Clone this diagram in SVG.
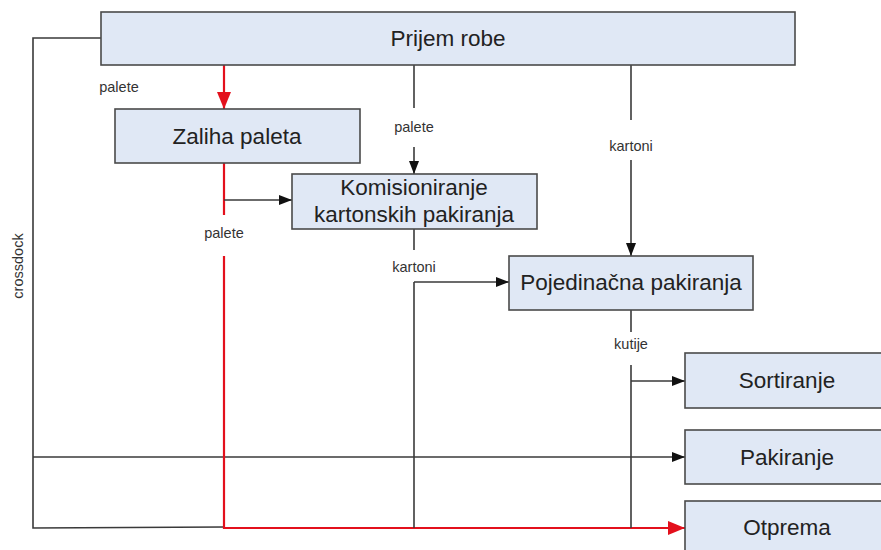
<svg xmlns="http://www.w3.org/2000/svg" width="881" height="550" viewBox="0 0 881 550">
<defs>
<style>
.box{fill:#e0e8f5;stroke:#4a4a4a;stroke-width:1.6}
.t{font-family:"Liberation Sans",Arial,sans-serif;font-size:22.5px;fill:#222;text-anchor:middle}
.l{font-family:"Liberation Sans",Arial,sans-serif;font-size:14.5px;fill:#333;text-anchor:middle}
.k{fill:none;stroke:#3a3a3a;stroke-width:1.6}
.r{fill:none;stroke:#e3101c;stroke-width:2.2}
</style>
<marker id="ab" markerUnits="userSpaceOnUse" markerWidth="14" markerHeight="10" refX="13" refY="5" orient="auto"><path d="M0,0 L13,5 L0,10 Z" fill="#111"/></marker>
<marker id="ar" markerUnits="userSpaceOnUse" markerWidth="18" markerHeight="14" refX="17" refY="7" orient="auto"><path d="M0,0 L17,7 L0,14 Z" fill="#e3101c"/></marker>
</defs>
<rect width="881" height="550" fill="#fff"/>
<g id="connectors">
<polyline class="k" points="101,38 33,38 33,528 224,527"/>
<line class="k" x1="33" y1="457" x2="685" y2="457" marker-end="url(#ab)"/>
<line class="r" x1="224" y1="65" x2="224" y2="109" marker-end="url(#ar)"/>
<line class="r" x1="224" y1="163" x2="224" y2="215"/>
<polyline class="r" points="224,256 224,528 685,528" marker-end="url(#ar)"/>
<line class="k" x1="224" y1="200" x2="292" y2="200" marker-end="url(#ab)"/>
<line class="k" x1="414" y1="65" x2="414" y2="108"/>
<line class="k" x1="414" y1="147" x2="414" y2="174" marker-end="url(#ab)"/>
<line class="k" x1="631" y1="65" x2="631" y2="120"/>
<line class="k" x1="631" y1="160" x2="631" y2="256" marker-end="url(#ab)"/>
<line class="k" x1="414" y1="229" x2="414" y2="250"/>
<line class="k" x1="414" y1="282" x2="414" y2="528"/>
<line class="k" x1="414" y1="282" x2="509" y2="282" marker-end="url(#ab)"/>
<line class="k" x1="631" y1="310" x2="631" y2="332"/>
<line class="k" x1="631" y1="365" x2="631" y2="528"/>
<line class="k" x1="631" y1="381" x2="685" y2="381" marker-end="url(#ab)"/>
<text class="l" x="119" y="92">palete</text>
<text class="l" x="414" y="132">palete</text>
<text class="l" x="631" y="151">kartoni</text>
<text class="l" x="224" y="238">palete</text>
<text class="l" x="414" y="272">kartoni</text>
<text class="l" x="631" y="349">kutije</text>
<text class="l" transform="translate(22.5,266) rotate(-90)">crossdock</text>
</g>
<g id="prijem"><rect class="box" x="101" y="12" width="694" height="53"/><text class="t" x="448" y="46">Prijem robe</text></g>
<g id="zaliha"><rect class="box" x="115" y="109" width="245" height="54"/><text class="t" x="237" y="144">Zaliha paleta</text></g>
<g id="komisioniranje"><rect class="box" x="292" y="174" width="245" height="55"/><text class="t" x="414" y="195">Komisioniranje</text><text class="t" x="414" y="222">kartonskih pakiranja</text></g>
<g id="pojedinacna"><rect class="box" x="509" y="256" width="244" height="54"/><text class="t" x="631" y="290">Pojedinačna pakiranja</text></g>
<g id="sortiranje"><rect class="box" x="685" y="353" width="210" height="55"/><text class="t" x="787" y="388">Sortiranje</text></g>
<g id="pakiranje"><rect class="box" x="685" y="430" width="210" height="54"/><text class="t" x="787" y="465">Pakiranje</text></g>
<g id="otprema"><rect class="box" x="685" y="501" width="210" height="60"/><text class="t" x="787" y="535">Otprema</text></g>
</svg>
